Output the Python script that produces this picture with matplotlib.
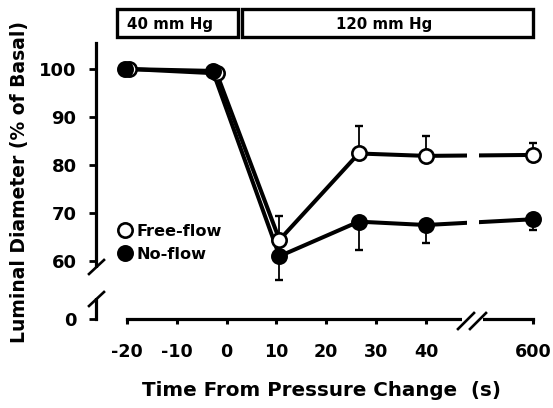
import numpy as np
import matplotlib
matplotlib.use('Agg')
import matplotlib.pyplot as plt
from matplotlib.lines import Line2D
from matplotlib.patches import Rectangle

# ---------------- data ----------------
time_free = [-19.6, -2.0, 10.6, 26.5, 40, 600]
free_flow = [100.0, 99.1, 64.4, 82.4, 81.9, 82.1]
free_err = [0, 0, 5.0, 5.8, 4.2, 2.5]
time_no = [-20.4, -2.8, 10.6, 26.5, 40, 600]
no_flow = [100.0, 99.6, 61.0, 68.2, 67.5, 68.7]
no_err = [0, 0, 5.0, 5.9, 3.8, 2.2]
x_ticks = [-20, -10, 0, 10, 20, 30, 40, 600]
y_ticks = [0, 60, 70, 80, 90, 100]
series_labels = ['Free-flow', 'No-flow']
phase_labels = ['40 mm Hg', '120 mm Hg']
x_label = 'Time From Pressure Change  (s)'
y_label = 'Luminal Diameter (% of Basal)'

# ---------------- broken-axis scales ----------------
XK = 21.5 / 560.0          # compression of time beyond 40 s
Y0 = 55.0                  # diameter below which the axis is compressed
YK = (Y0 - 47.92) / Y0     # compression factor below Y0


def fx(t):
    t = np.asarray(t, float)
    return np.where(t <= 40, t, 40 + (t - 40) * XK)


def ix(u):
    u = np.asarray(u, float)
    return np.where(u <= 40, u, 40 + (u - 40) / XK)


def fy(v):
    v = np.asarray(v, float)
    return np.where(v >= Y0, v, Y0 - (Y0 - v) * YK)


def iy(u):
    u = np.asarray(u, float)
    return np.where(u >= Y0, u, Y0 - (Y0 - u) / YK)


plt.rcParams['font.family'] = ['DejaVu Sans']
plt.rcParams['font.weight'] = 'bold'

W, H, DPI = 553, 408, 100
fig = plt.figure(figsize=(W / DPI, H / DPI), dpi=DPI)
L, R, T, B = 86, 545, 38, 328
ax = fig.add_axes([L / W, 1 - B / H, (R - L) / W, (B - T) / H])
ax.set_xscale('function', functions=(fx, ix))
ax.set_yscale('function', functions=(fy, iy))
PXX, PXY = 4.98, 4.8
ax.set_xlim(float(ix(-20 - (127 - L) / PXX)), float(ix(40 + (R - 426) / PXX)))
ax.set_ylim(float(iy(float(fy(0)) - (B - 319) / PXY)), float(iy(100 + (69 - T) / PXY)))


def fpx(x, y):
    return x / W, 1 - y / H


# spines
for s in ['top', 'right']:
    ax.spines[s].set_visible(False)
ax.spines['left'].set_position(('data', -20 - (127 - 96) / PXX))
ax.spines['left'].set_bounds(0, float(iy(100 + (69 - 43) / PXY)))
ax.spines['bottom'].set_position(('data', 0))
ax.spines['bottom'].set_bounds(-20, 600)
for s in ['left', 'bottom']:
    ax.spines[s].set_linewidth(2.3)

ax.set_xticks(x_ticks)
ax.set_xticklabels([str(t) for t in x_ticks])
ax.set_yticks(y_ticks)
ax.set_yticklabels([str(t) for t in y_ticks])
ax.minorticks_off()
ax.tick_params(axis='x', direction='out', length=3.6, width=2.2, pad=14, labelsize=12.6)
ax.tick_params(axis='y', direction='out', length=5.0, width=2.0, pad=9, labelsize=13)
ax.patch.set_visible(False)

# lines
ax.plot(time_free, free_flow, '-', color='k', lw=2.9, zorder=3, solid_capstyle='butt')
ax.plot(time_no, no_flow, '-', color='k', lw=2.9, zorder=3, solid_capstyle='butt')
# one-sided error bars
ax.errorbar(time_free, free_flow, yerr=[np.zeros(len(free_err)), free_err], fmt='none',
            ecolor='k', elinewidth=1.3, capsize=2.7, capthick=1.7, zorder=2)
ax.errorbar(time_no, no_flow, yerr=[no_err, np.zeros(len(no_err))], fmt='none',
            ecolor='k', elinewidth=1.3, capsize=2.7, capthick=1.7, zorder=2)
# markers
mk = dict(marker='o', ls='none', ms=10.3, mec='k', mew=1.9)
ax.plot(time_free, free_flow, mfc='white', zorder=4, **mk)
ax.plot(time_no, no_flow, mfc='k', zorder=5, **mk)

# gap in the data lines at the time-axis break
fig.add_artist(Rectangle(fpx(467, 235), 12 / W, 95 / H, transform=fig.transFigure,
                         fc='white', ec='none', zorder=1))
# x-axis break
fig.add_artist(Rectangle(fpx(462, 327), 21 / W, 12 / H, transform=fig.transFigure,
                         fc='white', ec='none', zorder=1))
for (x0, y0, x1, y1) in [(458, 329, 474, 313), (470, 329, 486, 313)]:
    fig.add_artist(Line2D([x0 / W, x1 / W], [1 - y0 / H, 1 - y1 / H], transform=fig.transFigure,
                          color='k', lw=1.9, zorder=2))
# y-axis break
fig.add_artist(Rectangle(fpx(88, 298), 16 / W, 30 / H, transform=fig.transFigure,
                         fc='white', ec='none', zorder=1))
for (x0, y0, x1, y1) in [(89, 274, 104, 260), (89, 306, 104, 292)]:
    fig.add_artist(Line2D([x0 / W, x1 / W], [1 - y0 / H, 1 - y1 / H], transform=fig.transFigure,
                          color='k', lw=1.9, zorder=2))

# legend
handles = [Line2D([], [], mfc='white', **mk), Line2D([], [], mfc='k', **mk)]
ax.legend(handles, series_labels, loc='upper left', bbox_to_anchor=fpx(117, 224),
          bbox_transform=fig.transFigure, frameon=False, borderpad=0, borderaxespad=0,
          handlelength=1.0, handletextpad=0.2, labelspacing=0.5,
          prop={'size': 11.6, 'weight': 'bold'})

# pressure boxes
for (x0, x1, xt), lab in zip([(117, 238, 170), (242, 533, 384)], phase_labels):
    fig.add_artist(Rectangle(fpx(x0, 37), (x1 - x0) / W, 28 / H, transform=fig.transFigure,
                             fill=False, ec='k', lw=2.4))
    fig.text(xt / W, 1 - 24 / H, lab, ha='center', va='center', size=10.8, weight='bold')

# axis labels
fig.text(322 / W, 1 - 391 / H, x_label, ha='center', va='center', size=14.3, weight='bold')
fig.text(20 / W, 1 - 182 / H, y_label, ha='center', va='center', rotation=90, size=13.5,
         weight='bold')

fig.savefig('out.png', dpi=DPI)
